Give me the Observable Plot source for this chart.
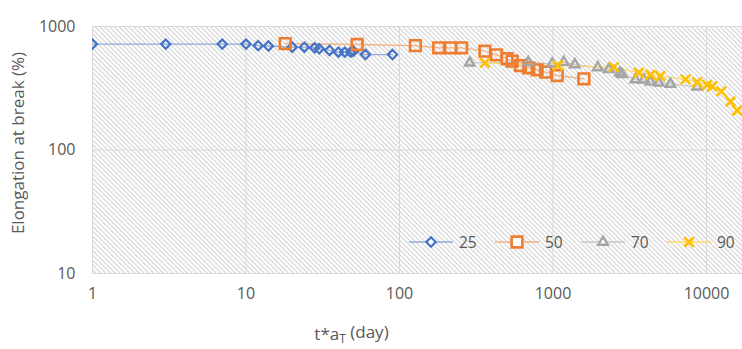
<!DOCTYPE html>
<html>
<head>
<meta charset="utf-8">
<script src="https://cdn.jsdelivr.net/npm/d3@7"></script>
<script src="https://cdn.jsdelivr.net/npm/@observablehq/plot@0.6"></script>
<style>
  html, body { margin: 0; padding: 0; background: #fff; }
  #chart { position: relative; width: 742px; height: 349px; overflow: hidden; font-family: "Open Sans", Roboto, sans-serif; }
  .legend-item { position: absolute; top: 233px; height: 18px; display: flex; align-items: center; color: #595959; font-size: 15.5px; }
  .legend-item span { margin-left: 6px; }
</style>
</head>
<body>
<div id="chart"></div>
<script>
// ---- data ----
const seriesNames = ["25", "50", "70", "90"];
const t25 = [1, 3, 7, 10, 12, 14, 20, 24, 28, 30, 35, 40, 44, 48, 50, 60, 90];
const e25 = [720, 720, 720, 720, 700, 695, 680, 680, 672, 660, 640, 620, 620, 620, 630, 593, 593];
const t50 = [18, 53, 127, 180, 215, 254, 360, 428, 502, 542, 614, 695, 788, 894, 1065, 1590];
const e50 = [728, 715, 700, 672, 672, 672, 631, 590, 548, 524, 483, 463, 446, 427, 401, 377];
const t70 = [287, 690, 988, 1176, 1387, 1959, 2311, 2725, 2821, 3443, 3906, 4317, 4890, 5821, 8690];
const e70 = [508, 512, 499, 514, 492, 466, 450, 422, 409, 372, 370, 356, 350, 342, 325];
const t90 = [360, 1075, 2490, 3622, 4317, 5012, 7300, 8690, 10090, 10890, 12470, 14330, 15850];
const e90 = [508, 483, 469, 422, 407, 396, 373, 354, 337, 327, 298, 247, 209];
const xTicks = [1, 10, 100, 1000, 10000];
const yTicks = [10, 100, 1000];
const xLabelParts = ["t*a", "T", " (day)"];
const xLabel = xLabelParts.join("");
const yLabel = "Elongation at break (%)";

// ---- styles ----
const styles = {
  "25": {color: "#4472C4", line: "#8FAADC", symbol: "diamond2", r: 4.2, sw: 2.2},
  "50": {color: "#ED7D31", line: "#F4B183", symbol: "square2", r: 6.8, sw: 2.6},
  "70": {color: "#A5A5A5", line: "#C9C9C9", symbol: "triangle2", r: 4.5, sw: 2.4},
  "90": {color: "#FFC000", line: "#FFD966", symbol: "times", r: 4.4, sw: 2.6}
};
const tArr = [t25, t50, t70, t90];
const eArr = [e25, e50, e70, e90];
const data = seriesNames.map((s, i) => tArr[i].map((t, j) => ({series: s, t, e: eArr[i][j]})));

const marks = [
  Plot.frame({fill: "url(#hatch)", stroke: null}),
  Plot.gridX(xTicks, {stroke: "#d9d9d9", strokeOpacity: 1}),
  Plot.gridY(yTicks, {stroke: "#d9d9d9", strokeOpacity: 1}),
  Plot.axisX(xTicks, {tickFormat: d => String(d), tickSize: 0, tickPadding: 14, fontSize: 16, label: null}),
  Plot.axisY(yTicks, {tickFormat: d => String(d), tickSize: 0, tickPadding: 17, fontSize: 16, label: null}),
];
data.forEach((d, i) => {
  const st = styles[seriesNames[i]];
  marks.push(Plot.line(d, {x: "t", y: "e", stroke: st.line, strokeWidth: 1.3, clip: true}));
});
data.forEach((d, i) => {
  const st = styles[seriesNames[i]];
  marks.push(Plot.dot(d, {x: "t", y: "e", symbol: () => st.symbol, r: st.r, stroke: st.color, strokeWidth: st.sw, fill: "none", clip: true}));
});
marks.push(Plot.text([xLabel], {text: d => d, frameAnchor: "bottom", textAnchor: "middle", dx: -66, dy: 66, fontSize: 17, fill: "#595959", letterSpacing: "0.8px", className: "xlab"}));
marks.push(Plot.text([yLabel], {text: d => d, frameAnchor: "left", textAnchor: "middle", rotate: -90, dx: -74, dy: -7, fontSize: 17, fill: "#595959", letterSpacing: "1.3px"}));

const svg = Plot.plot({
  width: 742,
  height: 349,
  marginTop: 26,
  marginBottom: 76,
  marginLeft: 92,
  marginRight: 0,
  style: {fontFamily: "'Open Sans', Roboto, sans-serif", fontSize: "15px", color: "#595959", background: "white", overflow: "hidden"},
  x: {type: "log", domain: [1, Math.pow(10, 650 / 153.5)]},
  y: {type: "log", domain: [10, 1000]},
  symbol: {type: "identity"},
  marks
});

const defs = d3.select(svg).insert("defs", ":first-child");
const pat = defs.append("pattern").attr("id", "hatch").attr("patternUnits", "userSpaceOnUse")
  .attr("width", 3.4).attr("height", 3.4).attr("patternTransform", "rotate(-45)");
pat.append("rect").attr("width", 3.4).attr("height", 3.4).attr("fill", "#ffffff");
pat.append("line").attr("x1", 0.6).attr("x2", 0.6).attr("y1", 0).attr("y2", 3.4).attr("stroke", "#d2d2d2").attr("stroke-width", 1.1);

// subscript T in x label
d3.select(svg).selectAll("g.xlab text").each(function () {
  const t = d3.select(this);
  t.text(null);
  t.append("tspan").text(xLabelParts[0]);
  t.append("tspan").attr("dy", "0.3em").attr("font-size", "12px").text(xLabelParts[1]);
  t.append("tspan").attr("dy", "-0.3em").text(xLabelParts[2]);
});

const chart = document.getElementById("chart");
chart.appendChild(svg);

// ---- legend ----
seriesNames.forEach((s, i) => {
  const st = styles[s];
  const item = document.createElement("div");
  item.className = "legend-item";
  item.style.left = (409 + i * 86) + "px";
  const ls = d3.create("svg").attr("width", 44).attr("height", 18);
  ls.append("line").attr("x1", 0).attr("x2", 44).attr("y1", 9).attr("y2", 9).attr("stroke", st.line).attr("stroke-width", 1.3);
  const symMap = {diamond2: d3.symbolDiamond2, square2: d3.symbolSquare2, triangle2: d3.symbolTriangle2, times: d3.symbolTimes};
  ls.append("path").attr("transform", "translate(22,9)")
    .attr("d", d3.symbol(symMap[st.symbol], Math.PI * st.r * st.r)())
    .attr("fill", "white").attr("stroke", st.color).attr("stroke-width", st.sw);
  item.appendChild(ls.node());
  const lab = document.createElement("span");
  lab.textContent = s;
  item.appendChild(lab);
  chart.appendChild(item);
});
</script>
</body>
</html>
